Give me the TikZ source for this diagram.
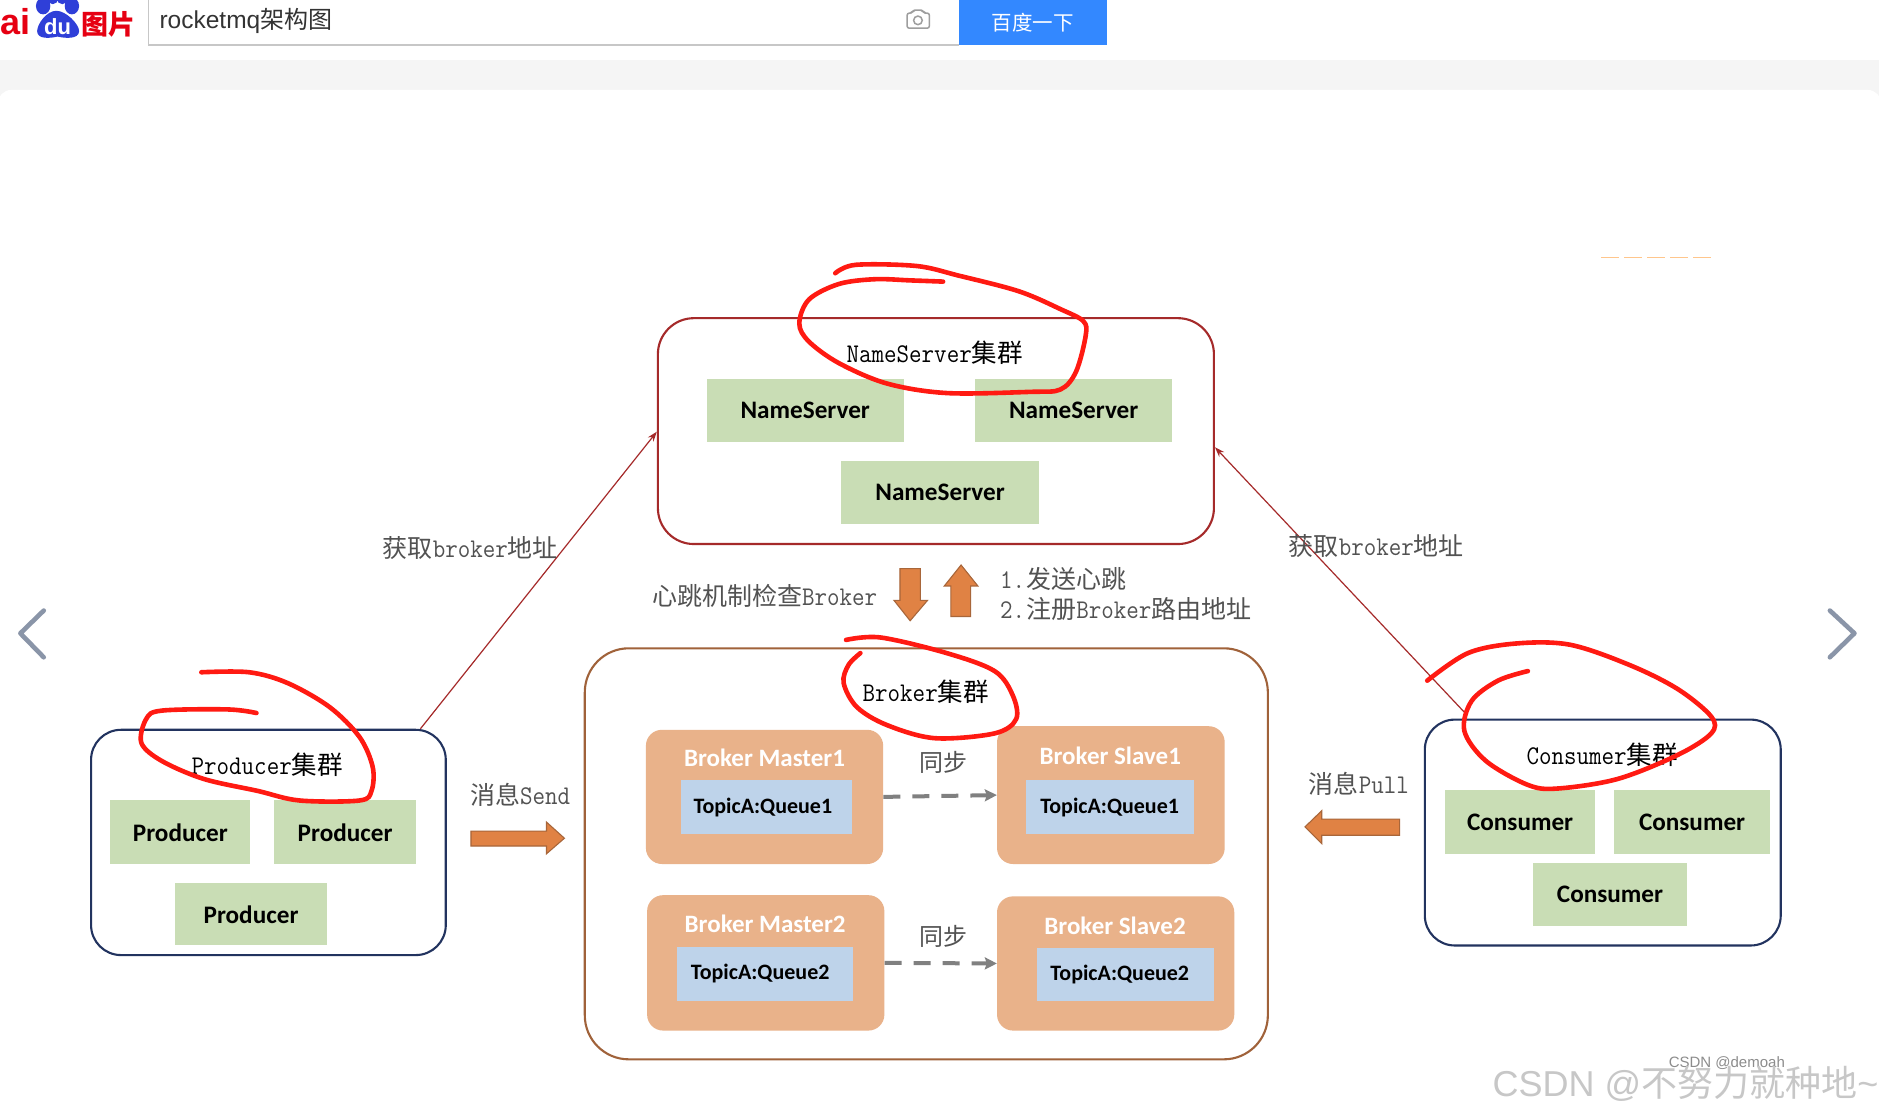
\documentclass[tikz,border=0pt]{standalone}
\usepackage{fontspec}
\usetikzlibrary{arrows.meta,calc}
\setmonofont[FakeStretch=0.9]{Latin Modern Mono}
\newfontfamily\cjk{Noto Sans CJK SC}
\newfontfamily\carl{Carlito}
\newfontfamily\libs{Liberation Sans}
\definecolor{boxgreen}{HTML}{C9DDB5}
\definecolor{brokerfill}{HTML}{E9B28A}
\definecolor{topicblue}{HTML}{BED3EA}
\definecolor{navyline}{HTML}{22335F}
\definecolor{darkred}{HTML}{A52A2A}
\definecolor{brownline}{HTML}{A0623A}
\definecolor{blockfill}{HTML}{E08244}
\definecolor{blockline}{HTML}{A8663A}
\definecolor{scribble}{HTML}{FF1A12}
\definecolor{navgray}{HTML}{8A95A8}
\definecolor{baidured}{HTML}{E60012}
\definecolor{baidublue}{HTML}{2F3FD8}
\definecolor{btnblue}{HTML}{3388FF}
\newcommand{\hd}[2]{\fontsize{#1}{#2}\selectfont}
\tikzset{
  x=1.19834pt,y=-1.19834pt,
  cluster/.style={draw,line width=2.1pt,fill=white,rounded corners=30pt,inner sep=0},
  greenbox/.style={fill=boxgreen,inner sep=0,font=\carl\bfseries\hd{25.2}{26},text=black},
  brokerbox/.style={fill=brokerfill,rounded corners=16pt,inner sep=0},
  topicbox/.style={fill=topicblue,inner sep=0,font=\carl\bfseries\hd{22}{24},text=black},
  brokertitle/.style={inner sep=0,font=\carl\bfseries\hd{25}{26},text=white},
  clustertitle/.style={inner sep=0,font=\ttfamily\hd{27}{28},text=black},
  graylabel/.style={inner sep=0,font=\ttfamily\hd{27}{28},text=black!68},
  link/.style={draw=darkred,line width=1.2pt,-{Stealth[length=10pt,width=7pt]}},
  syncline/.style={draw=black!50,line width=4pt,dash pattern=on 17pt off 12pt,-{Stealth[length=12pt,width=12pt,inset=2pt]}},
  blockarrow/.style={fill=blockfill,draw=blockline,line width=1.1pt},
  redstroke/.style={draw=scribble,line width=4.6pt,line cap=round,line join=round},
  navchevron/.style={draw=navgray,line width=4.6pt,line cap=round,line join=round},
}
% box helper: name, x1, y1, x2, y2, style, text
\newcommand{\bx}[7]{\node[#6,minimum width=#4*1.19834pt-#2*1.19834pt,minimum height=#5*1.19834pt-#3*1.19834pt] (#1) at ({(#2+#4)/2},{(#3+#5)/2}) {#7};}
\begin{document}
\begin{tikzpicture}
\useasboundingbox (0,0) rectangle (1568,932);
\clip (0,0) rectangle (1568,932);
\fill[white] (0,0) rectangle (1568,932);
% page band and panel
\fill[black!4] (0,50) rectangle (1568,932);
\fill[white,rounded corners=14pt] (-2,75) rectangle (1570,960);
% search bar
\draw[black!22,line width=1.4pt] (124,0) -- (124,37.5) -- (800,37.5);
\node[anchor=west,inner sep=0,font=\libs\hd{24.5}{26},text=black!80] (query) at (133,17.5) {rocketmq{\cjk\hd{24}{26}架构图}};
\node[fill=btnblue,inner sep=0,minimum width=148.6pt,minimum height=44.6pt,font=\cjk\hd{20.5}{24},text=white] (searchbtn) at (862,18.6) {百度一下};
% camera icon
\draw[black!38,line width=1.5pt,rounded corners=2pt] (757,11) -- (761,11) -- (762,8.5) -- (770,8.5) -- (771,11) -- (775.5,11) -- (775.5,23.5) -- (757,23.5) -- cycle;
\draw[black!38,line width=1.5pt] (766,17) circle (3.6);
% Baidu logo
\node[anchor=base east,inner sep=0,font=\libs\bfseries\hd{36}{38},text=baidured] (bai) at (25.5,29.2) {Bai};
\fill[baidublue] (47,9) .. controls (55,9) and (66,20) .. (66,26) .. controls (66,33) and (54,32) .. (48,30.5) .. controls (42,32) and (31,33) .. (31,26) .. controls (31,20) and (39,9) .. (47,9) -- cycle;
\fill[baidublue] (36,5) ellipse (6 and 7) (60,5) ellipse (6 and 7) (44,-1) ellipse (4.5 and 4.5) (52,-1) ellipse (4.5 and 4.5);
\node[inner sep=0,font=\libs\bfseries\hd{22}{24},text=white] (du) at (48,22) {du};
\node[anchor=west,inner sep=0,font=\cjk\bfseries\hd{27}{28},text=baidured] (tupian) at (67.5,20) {图片};
% nav chevrons
\coordinate (nla) at (36.5,509.5); \coordinate (nlb) at (17,528.5); \coordinate (nlc) at (36.5,548.5);
\coordinate (nra) at (1527,509.5); \coordinate (nrb) at (1547.5,528.5); \coordinate (nrc) at (1527,548.5);
\draw[navchevron] (nla) -- (nlb) -- (nlc);
\draw[navchevron] (nra) -- (nrb) -- (nrc);
% faint mark
\coordinate (fma) at (1336,215); \coordinate (fmb) at (1428,215);
\draw[orange!45!white,line width=1.1pt,dash pattern=on 18pt off 5pt] (fma) -- (fmb);
% clusters
\bx{nscluster}{549}{265.5}{1013}{454}{cluster,draw=darkred,rounded corners=36pt}{}
\bx{brokercluster}{488}{541}{1058}{884}{cluster,draw=brownline,rounded corners=44pt}{}
\bx{prodcluster}{76}{609}{372}{797}{cluster,draw=navyline}{}
\bx{conscluster}{1189}{600.5}{1486}{789}{cluster,draw=navyline}{}
% connectors between clusters
\coordinate (prodout) at ($(prodcluster.north east)+(-22,0)$);
\coordinate (nsinl) at ($(nscluster.west)+(0,0.5)$);
\coordinate (consout) at ($(conscluster.north west)+(36,-3)$);
\coordinate (nsinr) at ($(nscluster.east)+(0,13.5)$);
\draw[link] (prodout) -- (nsinl);
\draw[link] (consout) -- (nsinr);
% NameServer boxes
\bx{ns1}{590}{316}{754}{369}{greenbox}{NameServer}
\bx{ns2}{814}{316}{978}{369}{greenbox}{NameServer}
\bx{ns3}{702}{385}{867}{437}{greenbox}{NameServer}
\node[clustertitle] (nstitle) at (780,294) {NameServer{\cjk\hd{25.5}{28}集群}};
% Producer boxes
\bx{p1}{92}{668}{209}{721}{greenbox}{Producer}
\bx{p2}{229}{668}{347}{721}{greenbox}{Producer}
\bx{p3}{146}{737}{273}{789}{greenbox}{Producer}
\node[clustertitle] (ptitle) at (223,638) {Producer{\cjk\hd{25.5}{28}集群}};
% Consumer boxes
\bx{c1}{1206}{659.5}{1331}{712.5}{greenbox}{Consumer}
\bx{c2}{1347}{659.5}{1477}{712.5}{greenbox}{Consumer}
\bx{c3}{1279}{720}{1408}{772.5}{greenbox}{Consumer}
\node[clustertitle] (ctitle) at (1337,629.5) {Consumer{\cjk\hd{25.5}{28}集群}};
% Broker cluster
\node[clustertitle] (btitle) at (772.5,577.5) {Broker{\cjk\hd{25.5}{28}集群}};
\bx{bm1}{539}{609}{737}{721}{brokerbox}{}
\bx{bs1}{832}{606}{1022}{721}{brokerbox}{}
\bx{bm2}{540}{747}{738}{860}{brokerbox}{}
\bx{bs2}{832}{748}{1030}{860}{brokerbox}{}
\bx{tm1}{568}{651}{711}{696}{topicbox}{\hspace*{-7pt}TopicA:Queue1}
\bx{ts1}{856}{651}{996}{696}{topicbox}{TopicA:Queue1}
\bx{tm2}{565}{790.5}{712}{835}{topicbox}{\hspace*{-10pt}TopicA:Queue2}
\bx{ts2}{865}{791}{1013}{835}{topicbox}{\hspace*{-11pt}TopicA:Queue2}
\node[brokertitle] (bm1t) at (638,632.5) {Broker Master1};
\node[brokertitle] (bs1t) at (926.5,630.5) {Broker Slave1};
\node[brokertitle] (bm2t) at (638.5,771) {Broker Master2};
\node[brokertitle] (bs2t) at (930.5,772.5) {Broker Slave2};
\draw[syncline] (bm1.east) -- ($(bs1.west)+(0,0)$);
\draw[syncline] (bm2.east) -- ($(bs2.west)+(0,0)$);
\node[graylabel,font=\cjk\hd{24}{28}] (sync1) at (787,636.5) {同步};
\node[graylabel,font=\cjk\hd{24}{28}] (sync2) at (787,781.5) {同步};
% labels
\node[graylabel] (getl) at (392.5,457) {{\cjk\hd{25}{28}获取}broker{\cjk\hd{25}{28}地址}};
\node[graylabel] (getr) at (1148.5,456) {{\cjk\hd{25}{28}获取}broker{\cjk\hd{25}{28}地址}};
\node[graylabel] (hb) at (638,497) {{\cjk\hd{25}{28}心跳机制检查}Broker};
\node[graylabel,anchor=west] (s1) at (834.5,483) {1.{\kern1pt\cjk\hd{25}{28}发送心跳}};
\node[graylabel,anchor=west] (s2) at (834.5,508) {2.{\kern1pt\cjk\hd{25}{28}注册}Broker{\cjk\hd{25}{28}路由地址}};
\node[graylabel] (send) at (434,663) {{\cjk\hd{25}{28}消息}Send};
\node[graylabel] (pull) at (1134,654) {{\cjk\hd{25}{28}消息}Pull};
% block arrows
\draw[blockarrow] (751,474.5) -- (768,474.5) -- (768,501) -- (774,501) -- (759.5,518) -- (746,501) -- (751,501) -- cycle;
\draw[blockarrow] (793.5,514.5) -- (810,514.5) -- (810,489) -- (816,489) -- (802,471.5) -- (788,489) -- (793.5,489) -- cycle;
\draw[blockarrow] (393,693.5) -- (456,693.5) -- (456,686) -- (471,699.5) -- (456,712.5) -- (456,706) -- (393,706) -- cycle;
\draw[blockarrow] (1168,683.5) -- (1103,683.5) -- (1103,676.5) -- (1089,690) -- (1103,704) -- (1103,697) -- (1168,697) -- cycle;
% red scribbles
\draw[redstroke] plot[smooth,tension=0.55] coordinates {(697,228) (714,221) (765,222) (800,230) (850,243) (885,258) (904,268) (906,280) (898,310) (885,325) (860,327) (790,328) (740,320) (700,303) (675,285) (667,270) (675,250) (700,237) (730,233) (760,234) (787,235)};
\draw[redstroke] plot[smooth,tension=0.55] coordinates {(168,561) (208,561) (240,570) (275,590) (300,615) (311,640) (310,660) (300,668) (250,668) (215,660) (170,650) (135,635) (118,620) (122,600) (135,593) (190,592) (214,595)};
\draw[redstroke] plot[smooth,tension=0.55] coordinates {(1191,568) (1225,545) (1265,537) (1310,538) (1360,555) (1400,575) (1428,598) (1428,612) (1400,630) (1350,650) (1300,658) (1275,655) (1240,635) (1222,610) (1228,585) (1250,568) (1275,560)};
\draw[redstroke] plot[smooth,tension=0.55] coordinates {(706,534) (735,532) (790,545) (830,560) (845,580) (848,600) (830,612) (780,616) (740,605) (715,590) (704,570) (708,555) (718,545)};
% watermarks
\node[inner sep=0,font=\libs\hd{15}{17},text=black!45] (wm2) at (1441,887) {CSDN @demoah};
\node[inner sep=0,font=\libs\hd{36}{40},text=black!22] (wm1) at (1406.5,904.5) {CSDN @{\cjk\hd{36}{40}不努力就种地}\textasciitilde};
\end{tikzpicture}
\end{document}
